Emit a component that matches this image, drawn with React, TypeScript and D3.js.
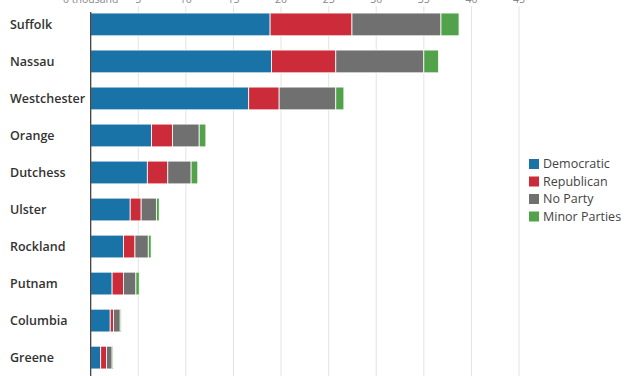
import React from "react";
import * as d3 from "d3";

const counties = ["Suffolk", "Nassau", "Westchester", "Orange", "Dutchess", "Ulster", "Rockland", "Putnam", "Columbia", "Greene"];
const democratic = [18.85, 19.0, 16.6, 6.4, 5.95, 4.15, 3.45, 2.25, 2.05, 1.05];
const republican = [8.6, 6.75, 3.2, 2.2, 2.15, 1.15, 1.2, 1.2, 0.35, 0.6];
const noParty = [9.35, 9.25, 5.95, 2.8, 2.45, 1.6, 1.4, 1.3, 0.7, 0.6];
const minorParties = [1.9, 1.55, 0.85, 0.7, 0.7, 0.3, 0.3, 0.35, 0.1, 0.1];
const seriesNames = ["Democratic", "Republican", "No Party", "Minor Parties"];
const seriesColors = ["#1a73a7", "#cc2b3a", "#707070", "#52a24c"];
const tickValues = [0, 5, 10, 15, 20, 25, 30, 35, 40, 45];

export default function App() {
  const W = 627, H = 376;
  const x = d3.scaleLinear().domain([0, 45]).range([90.7, 519]);
  const y = d3.scaleBand<string>().domain(counties).range([6, 376]).paddingInner(0.385).paddingOuter(0.19);
  const rows = counties.map((c, i) => ({ county: c, Democratic: democratic[i], Republican: republican[i], "No Party": noParty[i], "Minor Parties": minorParties[i] }));
  const stack = d3.stack<any>().keys(seriesNames)(rows);
  const font = "'Open Sans', Lato, sans-serif";
  return (
    <svg width={W} height={H} style={{ position: "absolute", left: 0, top: 0, background: "#fff" }} fontFamily={font}>
      {tickValues.map((t) => (
        <g key={t}>
          {t > 0 && <line x1={x(t)} x2={x(t)} y1={6} y2={H} stroke="#e3e3e3" strokeWidth={1} />}
          <text x={x(t)} y={3} textAnchor="middle" fontSize={10.5} fill="#888">{t === 0 ? "0 thousand" : t}</text>
        </g>
      ))}
      {stack.map((s, si) => (
        <g key={si} fill={seriesColors[si]}>
          {s.map((d, i) => (
            <rect key={i} x={x(d[0])} y={y(counties[i])!} width={Math.max(0, x(d[1]) - x(d[0]))} height={y.bandwidth()} stroke="#fff" strokeWidth={0.8} />
          ))}
        </g>
      ))}
      <line x1={x(0)} x2={x(0)} y1={12} y2={H} stroke="#333" strokeWidth={1.2} />
      {counties.map((c) => (
        <text key={c} x={10} y={y(c)! + y.bandwidth() / 2} dy="0.35em" fontSize={12.5} fontWeight={600} fill="#333">{c}</text>
      ))}
      {seriesNames.map((n, i) => (
        <g key={n} transform={`translate(529,${164 + i * 17.5})`}>
          <rect x={0} y={-5} width={10} height={10} fill={seriesColors[i]} />
          <text x={14} y={0} dy="0.35em" fontSize={12.5} fill="#444">{n}</text>
        </g>
      ))}
    </svg>
  );
}
